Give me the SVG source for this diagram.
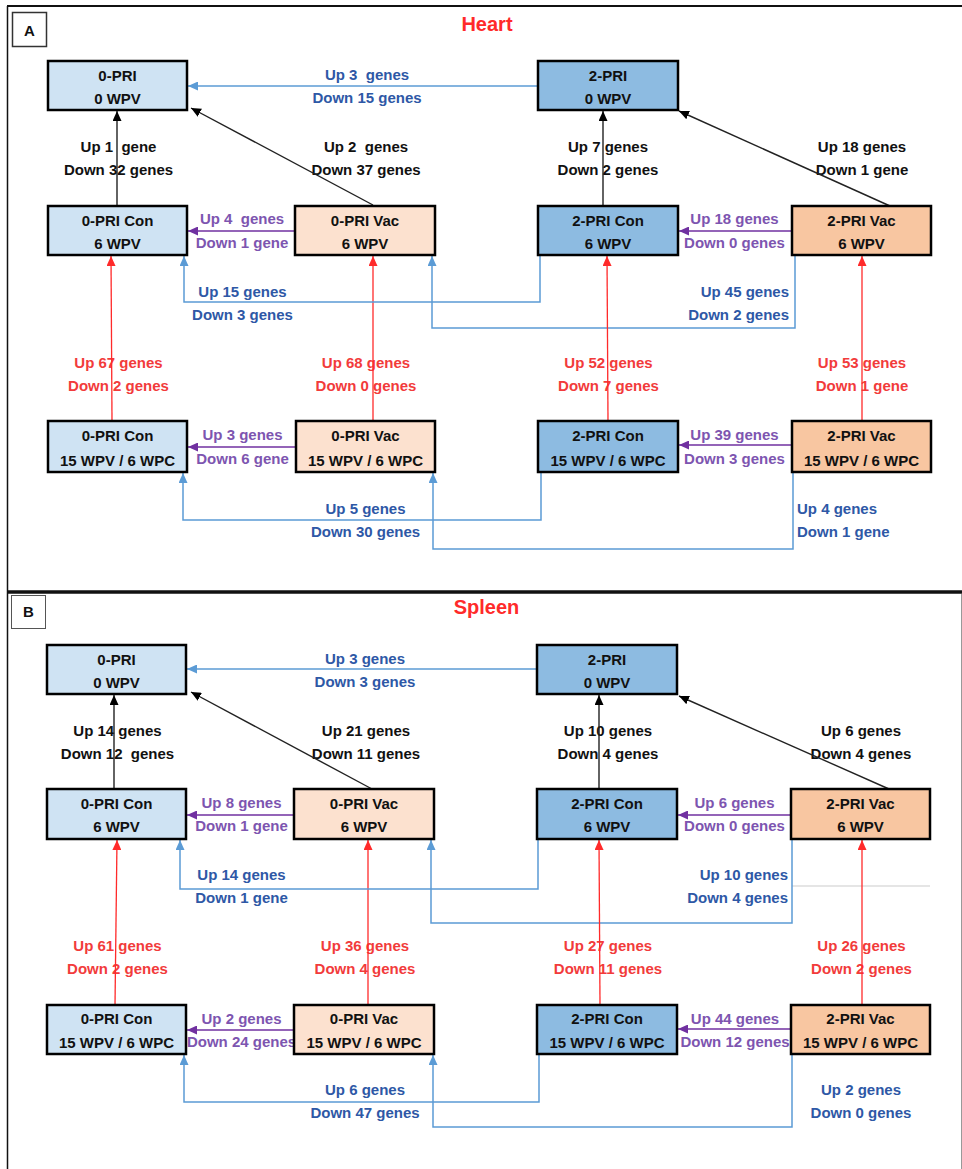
<svg xmlns="http://www.w3.org/2000/svg" width="962" height="1169" viewBox="0 0 962 1169">
<style>
.bg{fill:#fff}
.n rect{stroke:#000;stroke-width:2.5}
.c1{fill:#CFE3F3}.c2{fill:#8DBBE1}.v1{fill:#FCE1CF}.v2{fill:#F8C6A1}
text{font-family:"Liberation Sans",Arial,sans-serif;font-weight:bold;font-size:15px}
.n text{text-anchor:middle;fill:#111}
.lbl text{text-anchor:middle;white-space:pre}
.lb{fill:#2E58A6}.lp{fill:#7D55B0}.lr{fill:#F23B3B}.lk{fill:#111}
.e path{fill:none}
.eb{stroke:#5B9BD5;stroke-width:1.5;marker-end:url(#mb)}
.ep{stroke:#7030A0;stroke-width:1.5;marker-end:url(#mp)}
.er{stroke:#FF2A2A;stroke-width:1.3;marker-end:url(#mr)}
.ek{stroke:#222;stroke-width:1.4;marker-end:url(#mk)}
.title{fill:#FF2A2A;font-size:20px;text-anchor:middle}
</style>
<defs>
<marker id="mb" markerUnits="userSpaceOnUse" markerWidth="10" markerHeight="9" refX="10" refY="4.5" orient="auto"><path d="M0,0 L10,4.5 L0,9 z" fill="#5B9BD5"/></marker>
<marker id="mp" markerUnits="userSpaceOnUse" markerWidth="10" markerHeight="9" refX="10" refY="4.5" orient="auto"><path d="M0,0 L10,4.5 L0,9 z" fill="#7030A0"/></marker>
<marker id="mr" markerUnits="userSpaceOnUse" markerWidth="10" markerHeight="9" refX="10" refY="4.5" orient="auto"><path d="M0,0 L10,4.5 L0,9 z" fill="#FF2A2A"/></marker>
<marker id="mk" markerUnits="userSpaceOnUse" markerWidth="10" markerHeight="9" refX="10" refY="4.5" orient="auto"><path d="M0,0 L10,4.5 L0,9 z" fill="#000"/></marker>
</defs>
<rect class="bg" x="0" y="0" width="962" height="1169"/>
<g id="frame">
<path d="M7,6 H962" stroke="#111" stroke-width="2"/>
<path d="M7.5,6 V1169" stroke="#111" stroke-width="1.5"/>
<path d="M7,592 H962" stroke="#111" stroke-width="3.5"/>
<path d="M961.5,594 V1169" stroke="#999" stroke-width="1"/>
<rect x="12.5" y="12.5" width="34" height="34" fill="#fff" stroke="#333" stroke-width="1.5"/>
<text x="29.5" y="36" font-size="16" text-anchor="middle" fill="#111">A</text>
<rect x="11.5" y="595.5" width="34" height="33" fill="#fff" stroke="#555" stroke-width="1"/>
<text x="28.5" y="617" font-size="14" text-anchor="middle" fill="#111">B</text>
<text class="title" x="487" y="31">Heart</text>
<text class="title" x="486.5" y="614">Spleen</text>
<path d="M792,886 H930" stroke="#ddd" stroke-width="1.5"/>
</g>

<g id="labels" class="lbl">
<!-- Panel A -->
<text class="lb" x="367" y="80">Up 3  genes</text><text class="lb" x="367" y="103">Down 15 genes</text>
<text class="lk" x="118.5" y="152">Up 1  gene</text><text class="lk" x="118.5" y="175">Down 32 genes</text>
<text class="lk" x="366" y="152">Up 2  genes</text><text class="lk" x="366" y="175">Down 37 genes</text>
<text class="lp" x="242" y="224">Up 4  genes</text><text class="lp" x="242" y="248">Down 1 gene</text>
<text class="lk" x="608" y="152">Up 7 genes</text><text class="lk" x="608" y="175">Down 2 genes</text>
<text class="lk" x="862" y="152">Up 18 genes</text><text class="lk" x="862" y="175">Down 1 gene</text>
<text class="lp" x="734.5" y="224">Up 18 genes</text><text class="lp" x="734.5" y="248">Down 0 genes</text>
<text class="lb" x="242.5" y="297">Up 15 genes</text><text class="lb" x="242.5" y="320">Down 3 genes</text>
<text class="lb" x="789" y="297" style="text-anchor:end">Up 45 genes</text><text class="lb" x="789" y="320" style="text-anchor:end">Down 2 genes</text>
<text class="lr" x="118.5" y="368">Up 67 genes</text><text class="lr" x="118.5" y="391">Down 2 genes</text>
<text class="lr" x="366" y="368">Up 68 genes</text><text class="lr" x="366" y="391">Down 0 genes</text>
<text class="lr" x="608.5" y="368">Up 52 genes</text><text class="lr" x="608.5" y="391">Down 7 genes</text>
<text class="lr" x="862" y="368">Up 53 genes</text><text class="lr" x="862" y="391">Down 1 gene</text>
<text class="lp" x="242.5" y="440">Up 3 genes</text><text class="lp" x="242.5" y="464">Down 6 gene</text>
<text class="lp" x="734.5" y="440">Up 39 genes</text><text class="lp" x="734.5" y="464">Down 3 genes</text>
<text class="lb" x="365.5" y="514">Up 5 genes</text><text class="lb" x="365.5" y="537">Down 30 genes</text>
<text class="lb" x="797" y="514" style="text-anchor:start">Up 4 genes</text><text class="lb" x="797" y="537" style="text-anchor:start">Down 1 gene</text>
<!-- Panel B -->
<text class="lb" x="365" y="664">Up 3 genes</text><text class="lb" x="365" y="687">Down 3 genes</text>
<text class="lk" x="117.5" y="736">Up 14 genes</text><text class="lk" x="117.5" y="759">Down 12  genes</text>
<text class="lk" x="366" y="736">Up 21 genes</text><text class="lk" x="366" y="759">Down 11 genes</text>
<text class="lp" x="241.5" y="808">Up 8 genes</text><text class="lp" x="241.5" y="831">Down 1 gene</text>
<text class="lk" x="608" y="736">Up 10 genes</text><text class="lk" x="608" y="759">Down 4 genes</text>
<text class="lk" x="861" y="736">Up 6 genes</text><text class="lk" x="861" y="759">Down 4 genes</text>
<text class="lp" x="734.5" y="808">Up 6 genes</text><text class="lp" x="734.5" y="831">Down 0 genes</text>
<text class="lb" x="241.5" y="880">Up 14 genes</text><text class="lb" x="241.5" y="903">Down 1 gene</text>
<text class="lb" x="788" y="880" style="text-anchor:end">Up 10 genes</text><text class="lb" x="788" y="903" style="text-anchor:end">Down 4 genes</text>
<text class="lr" x="117.5" y="951">Up 61 genes</text><text class="lr" x="117.5" y="974">Down 2 genes</text>
<text class="lr" x="365" y="951">Up 36 genes</text><text class="lr" x="365" y="974">Down 4 genes</text>
<text class="lr" x="608" y="951">Up 27 genes</text><text class="lr" x="608" y="974">Down 11 genes</text>
<text class="lr" x="861.5" y="951">Up 26 genes</text><text class="lr" x="861.5" y="974">Down 2 genes</text>
<text class="lp" x="241.5" y="1024">Up 2 genes</text><text class="lp" x="241.5" y="1047">Down 24 genes</text>
<text class="lp" x="735" y="1024">Up 44 genes</text><text class="lp" x="735" y="1047">Down 12 genes</text>
<text class="lb" x="365" y="1095">Up 6 genes</text><text class="lb" x="365" y="1118">Down 47 genes</text>
<text class="lb" x="861" y="1095">Up 2 genes</text><text class="lb" x="861" y="1118">Down 0 genes</text>
</g>

<g id="connectors" class="e">
<!-- Panel A -->
<path class="eb" d="M538,86 H188"/>
<path class="ek" d="M117,206 V111"/>
<path class="ek" d="M373,205 L191,108"/>
<path class="ep" d="M295,231 H188"/>
<path class="er" d="M112,421 L111,256"/>
<path class="er" d="M373,421 V256"/>
<path class="eb" d="M540,255 V302 H184 V256"/>
<path class="eb" d="M795,255 V328 H432 V256"/>
<path class="ep" d="M792,231 H679"/>
<path class="ek" d="M603,206 V111"/>
<path class="ek" d="M890,206 L679,111"/>
<path class="er" d="M608,421 L607,256"/>
<path class="er" d="M862,421 V256"/>
<path class="ep" d="M296,447 H188"/>
<path class="ep" d="M792,445 H679"/>
<path class="eb" d="M541,472 V520 H183 V473"/>
<path class="eb" d="M793,472 V549 H433 V473"/>
<!-- Panel B -->
<path class="eb" d="M537,669 H187"/>
<path class="ek" d="M114,789 V695"/>
<path class="ek" d="M372,789 L191,692"/>
<path class="ep" d="M294,815 H187"/>
<path class="er" d="M115,1005 L117,840"/>
<path class="er" d="M368,1005 V840"/>
<path class="eb" d="M538,839 V889 H180 V840"/>
<path class="eb" d="M792,839 V923 H431 V840"/>
<path class="ep" d="M791,815 H678"/>
<path class="ek" d="M599,789 V695"/>
<path class="ek" d="M889,789 L679,696"/>
<path class="er" d="M600,1005 L599,840"/>
<path class="er" d="M862,1005 V840"/>
<path class="ep" d="M294,1030 H187"/>
<path class="ep" d="M791,1029 H678"/>
<path class="eb" d="M539,1054 V1102 H184 V1055"/>
<path class="eb" d="M792,1054 V1127 H433 V1055"/>
</g>

<g id="nodes" class="n">
<g id="A-0PRI-0WPV"><rect class="c1" x="48" y="61" width="139" height="49"/><text x="117.5" y="81">0-PRI</text><text x="117.5" y="104">0 WPV</text></g>
<g id="A-2PRI-0WPV"><rect class="c2" x="538" y="61" width="140" height="49"/><text x="608" y="81">2-PRI</text><text x="608" y="104">0 WPV</text></g>
<g id="A-0PRICon-6WPV"><rect class="c1" x="48" y="206" width="139" height="49"/><text x="117.5" y="226">0-PRI Con</text><text x="117.5" y="249">6 WPV</text></g>
<g id="A-0PRIVac-6WPV"><rect class="v1" x="295" y="206" width="140" height="49"/><text x="365" y="226">0-PRI Vac</text><text x="365" y="249">6 WPV</text></g>
<g id="A-2PRICon-6WPV"><rect class="c2" x="538" y="206" width="140" height="49"/><text x="608" y="226">2-PRI Con</text><text x="608" y="249">6 WPV</text></g>
<g id="A-2PRIVac-6WPV"><rect class="v2" x="792" y="206" width="139" height="49"/><text x="861.5" y="226">2-PRI Vac</text><text x="861.5" y="249">6 WPV</text></g>
<g id="A-0PRICon-15WPV"><rect class="c1" x="48" y="421" width="139" height="51"/><text x="117.5" y="441">0-PRI Con</text><text x="117.5" y="466">15 WPV / 6 WPC</text></g>
<g id="A-0PRIVac-15WPV"><rect class="v1" x="296" y="421" width="139" height="51"/><text x="365.5" y="441">0-PRI Vac</text><text x="365.5" y="466">15 WPV / 6 WPC</text></g>
<g id="A-2PRICon-15WPV"><rect class="c2" x="538" y="421" width="140" height="51"/><text x="608" y="441">2-PRI Con</text><text x="608" y="466">15 WPV / 6 WPC</text></g>
<g id="A-2PRIVac-15WPV"><rect class="v2" x="792" y="421" width="139" height="51"/><text x="861.5" y="441">2-PRI Vac</text><text x="861.5" y="466">15 WPV / 6 WPC</text></g>

<g id="B-0PRI-0WPV"><rect class="c1" x="47" y="645" width="139" height="49"/><text x="116.5" y="665">0-PRI</text><text x="116.5" y="688">0 WPV</text></g>
<g id="B-2PRI-0WPV"><rect class="c2" x="537" y="645" width="140" height="49"/><text x="607" y="665">2-PRI</text><text x="607" y="688">0 WPV</text></g>
<g id="B-0PRICon-6WPV"><rect class="c1" x="47" y="789" width="139" height="50"/><text x="116.5" y="809">0-PRI Con</text><text x="116.5" y="832">6 WPV</text></g>
<g id="B-0PRIVac-6WPV"><rect class="v1" x="294" y="789" width="140" height="50"/><text x="364" y="809">0-PRI Vac</text><text x="364" y="832">6 WPV</text></g>
<g id="B-2PRICon-6WPV"><rect class="c2" x="537" y="789" width="140" height="50"/><text x="607" y="809">2-PRI Con</text><text x="607" y="832">6 WPV</text></g>
<g id="B-2PRIVac-6WPV"><rect class="v2" x="791" y="789" width="139" height="50"/><text x="860.5" y="809">2-PRI Vac</text><text x="860.5" y="832">6 WPV</text></g>
<g id="B-0PRICon-15WPV"><rect class="c1" x="47" y="1005" width="139" height="49"/><text x="116.5" y="1024">0-PRI Con</text><text x="116.5" y="1048">15 WPV / 6 WPC</text></g>
<g id="B-0PRIVac-15WPV"><rect class="v1" x="294" y="1005" width="140" height="49"/><text x="364" y="1024">0-PRI Vac</text><text x="364" y="1048">15 WPV / 6 WPC</text></g>
<g id="B-2PRICon-15WPV"><rect class="c2" x="537" y="1005" width="140" height="49"/><text x="607" y="1024">2-PRI Con</text><text x="607" y="1048">15 WPV / 6 WPC</text></g>
<g id="B-2PRIVac-15WPV"><rect class="v2" x="791" y="1005" width="139" height="49"/><text x="860.5" y="1024">2-PRI Vac</text><text x="860.5" y="1048">15 WPV / 6 WPC</text></g>
</g>
</svg>
